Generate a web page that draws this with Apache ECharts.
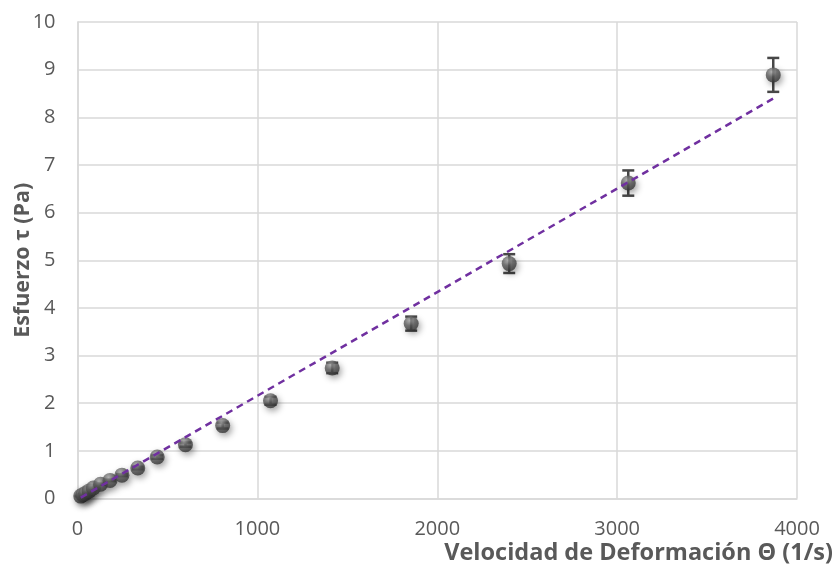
<!DOCTYPE html>
<html>
<head>
<meta charset="utf-8">
<script src="https://cdn.jsdelivr.net/npm/echarts@6/dist/echarts.min.js"></script>
<style>
  html, body { margin: 0; padding: 0; background: #fff; }
  #chart { width: 833px; height: 564px; }
</style>
</head>
<body>
<div id="chart"></div>
<script>
// Shear rate (1/s) and shear stress (Pa) with measurement uncertainty
const shearRate = [18, 30, 45, 65, 88, 128, 181, 247, 335, 443, 600, 807, 1073, 1416, 1855, 2400, 3062, 3868];
const shearStress = [0.05, 0.08, 0.11, 0.16, 0.22, 0.30, 0.38, 0.49, 0.64, 0.87, 1.13, 1.53, 2.05, 2.74, 3.67, 4.93, 6.62, 8.89];
const stressError = [0.002, 0.003, 0.004, 0.006, 0.009, 0.012, 0.015, 0.02, 0.026, 0.035, 0.045, 0.061, 0.082, 0.11, 0.147, 0.197, 0.265, 0.356];

// Linear trend line (Newtonian fit)
const trendSlope = 0.002175;
const trendIntercept = -0.02;

const xTicks = [0, 1000, 2000, 3000, 4000];
const yTicks = [0, 1, 2, 3, 4, 5, 6, 7, 8, 9, 10];

const xName = 'Velocidad de Deformación Θ (1/s)';
const yName = 'Esfuerzo τ (Pa)';

const points = shearRate.map((x, i) => [x, shearStress[i], stressError[i]]);
const xFirst = shearRate[0];
const xLast = shearRate[shearRate.length - 1];
const trend = [
  [xFirst, trendSlope * xFirst + trendIntercept],
  [xLast, trendSlope * xLast + trendIntercept]
];

const FONT = 'Open Sans';
const TEXT = '#595959';
const GRID = '#d9d9d9';

const chart = echarts.init(document.getElementById('chart'), null, { renderer: 'canvas' });

chart.setOption({
  animation: false,
  backgroundColor: '#ffffff',
  grid: { left: 77.5, right: 36, top: 22, bottom: 65.5, containLabel: false, outerBoundsMode: 'none' },
  xAxis: {
    type: 'value',
    min: xTicks[0],
    max: xTicks[xTicks.length - 1],
    interval: xTicks[1] - xTicks[0],
    name: xName,
    nameLocation: 'end',
    nameGap: 36,
    nameTextStyle: {
      color: TEXT, fontFamily: FONT, fontSize: 23.5, fontWeight: 'bold',
      align: 'right', verticalAlign: 'top', padding: [43, 0, 0, 0]
    },
    axisLine: { show: true, lineStyle: { color: GRID, width: 1.5 } },
    axisTick: { show: false },
    axisLabel: { color: TEXT, fontFamily: FONT, fontSize: 20, margin: 21, formatter: v => String(v) },
    splitLine: { show: true, lineStyle: { color: GRID, width: 1.5 } }
  },
  yAxis: {
    type: 'value',
    min: yTicks[0],
    max: yTicks[yTicks.length - 1],
    interval: yTicks[1] - yTicks[0],
    name: yName,
    nameLocation: 'middle',
    nameMoveOverlap: false,
    nameGap: 44,
    nameRotate: 90,
    nameTextStyle: { color: TEXT, fontFamily: FONT, fontSize: 21.5, fontWeight: 'bold' },
    axisLine: { show: true, lineStyle: { color: GRID, width: 1.5 } },
    axisTick: { show: false },
    axisLabel: { color: TEXT, fontFamily: FONT, fontSize: 20, margin: 22, formatter: v => String(v) },
    splitLine: { show: true, lineStyle: { color: GRID, width: 1.5 } }
  },
  series: [
    {
      // vertical error bars with caps
      type: 'custom',
      z: 2,
      data: points,
      renderItem: function (params, api) {
        const x = api.value(0), y = api.value(1), e = api.value(2);
        const top = api.coord([x, y + e]);
        const bot = api.coord([x, y - e]);
        const hw = 6;
        const st = { stroke: '#474747', lineWidth: 2.5 };
        return {
          type: 'group',
          children: [
            { type: 'line', shape: { x1: top[0], y1: top[1], x2: bot[0], y2: bot[1] }, style: st },
            { type: 'line', shape: { x1: top[0] - hw, y1: top[1], x2: top[0] + hw, y2: top[1] }, style: st },
            { type: 'line', shape: { x1: bot[0] - hw, y1: bot[1], x2: bot[0] + hw, y2: bot[1] }, style: st }
          ]
        };
      }
    },
    {
      type: 'scatter',
      z: 3,
      data: points,
      symbol: 'circle',
      symbolSize: 15,
      itemStyle: {
        color: {
          type: 'radial', x: 0.4, y: 0.3, r: 0.75,
          colorStops: [
            { offset: 0, color: '#a6a6a6' },
            { offset: 0.45, color: '#5a5a5a' },
            { offset: 1, color: '#303030' }
          ]
        },
        shadowBlur: 6,
        shadowColor: 'rgba(0,0,0,0.45)',
        shadowOffsetX: 2,
        shadowOffsetY: 3
      },
      emphasis: { disabled: true }
    },
    {
      type: 'line',
      z: 4,
      data: trend,
      symbol: 'none',
      lineStyle: { color: '#7030a0', width: 2.5, type: [7, 5] },
      emphasis: { disabled: true }
    }
  ]
});
</script>
</body>
</html>
